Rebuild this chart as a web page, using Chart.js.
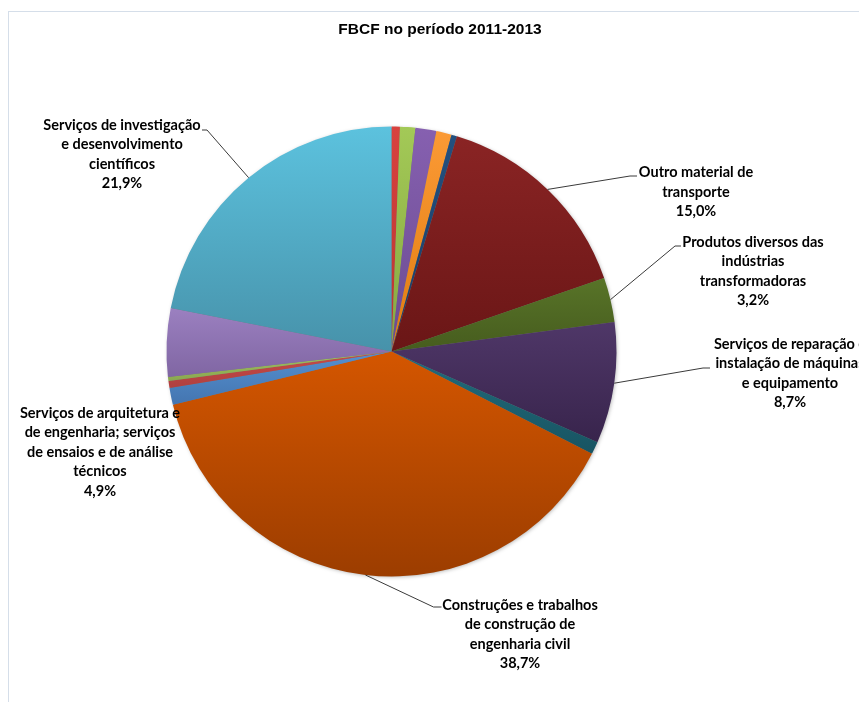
<!DOCTYPE html>
<html lang="pt">
<head>
<meta charset="utf-8">
<title>FBCF no período 2011-2013</title>
<script src="https://cdn.jsdelivr.net/npm/chart.js@4.4.1/dist/chart.umd.min.js"></script>
<style>
  html, body { margin: 0; padding: 0; background: #fff; }
  #wrap { position: relative; width: 859px; height: 702px; overflow: hidden; }
  #moldura { position: absolute; left: 8px; top: 11px; width: 900px; height: 800px;
             border-left: 1px solid #d5dee9; border-top: 1px solid #d5dee9; }
  canvas { position: absolute; left: 0; top: 0; }
</style>
</head>
<body>
<div id="wrap">
  <div id="moldura"></div>
  <canvas id="grafico-fbcf" width="859" height="702"></canvas>
</div>
<script>
const titulo = 'FBCF no período 2011-2013';

// Categorias (cada uma já partida em linhas); as fatias pequenas não têm rótulo
const categorias = [
  [], [], [], [], [],
  ['Outro material de', 'transporte'],
  ['Produtos diversos das', 'indústrias', 'transformadoras'],
  ['Serviços de reparação e', 'instalação de máquinas', 'e equipamento'],
  [],
  ['Construções e trabalhos', 'de construção de', 'engenharia civil'],
  [], [], [],
  ['Serviços de arquitetura e', 'de engenharia; serviços', 'de ensaios e de análise', 'técnicos'],
  ['Serviços de investigação', 'e desenvolvimento', 'científicos']
];

// Peso de cada produto na FBCF (%)
const valores = [0.6, 1.1, 1.5, 1.1, 0.4, 15.0, 3.2, 8.7, 0.9, 38.7, 1.2, 0.5, 0.3, 4.9, 21.9];

// Cores: topo e base do gradiente de cada fatia
const coresTopo = ['#d8423f', '#a3c957', '#8660b0', '#fb9a35', '#23507f', '#8a2424', '#587428',
  '#4f3768', '#216c7c', '#d45600', '#5590d0', '#c84a48', '#a0c060', '#9b80c0', '#5cc2de'];
const coresBase = ['#b83431', '#86a840', '#6a4b90', '#e07b10', '#1a3c64', '#6a1616', '#465c1e',
  '#38244c', '#185462', '#9c3d00', '#4475b0', '#b04040', '#8aa850', '#8066a3', '#4792aa'];

// Posição dos rótulos em relação ao centro da pizza (texto e ponto de ligação da linha)
const posRotulos = {
  14: { dx: -269.5, dy: -226.5, liga: { dx: -189.5, dy: -221.5, h: 5 } },
  5:  { dx: 304.5,  dy: -178.8, liga: { dx: 245.5,  dy: -175.5, h: -7 } },
  6:  { dx: 361.5,  dy: -109.5, liga: { dx: 289.5,  dy: -105.5, h: -6 } },
  7:  { dx: 398.5,  dy: -7.5,   liga: { dx: 318.5,  dy: 16.5,   h: -7 } },
  13: { dx: -291.5, dy: 61.5 },
  9:  { dx: 128.5,  dy: 253.5,  liga: { dx: 50,     dy: 255.5,  h: -8 } }
};
const alturaLinha = 19.5;

function formatarPct(v) {
  const total = valores.reduce((acc, x) => acc + x, 0);
  return (v / total * 100).toFixed(1).replace('.', ',') + '%';
}

const rotulosPlugin = {
  id: 'rotulos',
  beforeDatasetsDraw(chart) {
    const ctx = chart.ctx;
    const meta = chart.getDatasetMeta(0);
    const a0 = meta.data[0];

    // sombra suave por baixo da pizza
    ctx.save();
    ctx.shadowColor = 'rgba(0,0,0,0.35)';
    ctx.shadowBlur = 4;
    ctx.shadowOffsetX = 1;
    ctx.shadowOffsetY = 1;
    ctx.fillStyle = '#777';
    ctx.beginPath();
    ctx.arc(a0.x, a0.y, a0.outerRadius - 1, 0, Math.PI * 2);
    ctx.fill();
    ctx.restore();

    // gradiente vertical dentro de cada fatia
    meta.data.forEach((arc, i) => {
      let y0 = arc.y, y1 = arc.y;
      for (let k = 0; k <= 60; k++) {
        const a = arc.startAngle + (arc.endAngle - arc.startAngle) * k / 60;
        const yy = arc.y + arc.outerRadius * Math.sin(a);
        y0 = Math.min(y0, yy);
        y1 = Math.max(y1, yy);
      }
      const g = ctx.createLinearGradient(0, y0, 0, y1 + 0.01);
      g.addColorStop(0, coresTopo[i]);
      g.addColorStop(1, coresBase[i]);
      arc.options = Object.assign({}, arc.options, { backgroundColor: g });
    });
  },
  afterDatasetsDraw(chart) {
    const ctx = chart.ctx;
    const meta = chart.getDatasetMeta(0);
    const cx = meta.data[0].x, cy = meta.data[0].y;

    ctx.save();
    ctx.strokeStyle = '#3a3a3a';
    ctx.lineWidth = 1;
    ctx.fillStyle = '#000';
    ctx.font = 'bold 14.5px Lato';
    ctx.textAlign = 'center';
    ctx.textBaseline = 'middle';

    Object.entries(posRotulos).forEach(([idx, p]) => {
      const arc = meta.data[idx];
      if (p.liga) {
        const meio = (arc.startAngle + arc.endAngle) / 2;
        const ex = arc.x + arc.outerRadius * Math.cos(meio);
        const ey = arc.y + arc.outerRadius * Math.sin(meio);
        const lx = cx + p.liga.dx, ly = cy + p.liga.dy;
        ctx.beginPath();
        ctx.moveTo(ex, ey);
        ctx.lineTo(lx + p.liga.h, ly);
        ctx.lineTo(lx, ly);
        ctx.stroke();
      }
      const linhas = categorias[idx].concat([formatarPct(valores[idx])]);
      linhas.forEach((t, k) => ctx.fillText(t, cx + p.dx, cy + p.dy + k * alturaLinha));
    });

    // título
    ctx.font = 'bold 15.5px "Liberation Sans"';
    ctx.fillText(titulo, 440, 30);
    ctx.restore();
  }
};

const chart = new Chart(document.getElementById('grafico-fbcf').getContext('2d'), {
  type: 'pie',
  data: {
    labels: categorias.map(c => c.join(' ')),
    datasets: [{
      data: valores,
      backgroundColor: coresTopo,
      borderWidth: 0
    }]
  },
  options: {
    responsive: false,
    animation: false,
    radius: 225,
    layout: { padding: { left: 100, right: 176, top: 126.5, bottom: 125.5 } },
    plugins: {
      legend: { display: false },
      tooltip: { enabled: false },
      title: { display: false }
    }
  },
  plugins: [rotulosPlugin]
});
</script>
</body>
</html>
